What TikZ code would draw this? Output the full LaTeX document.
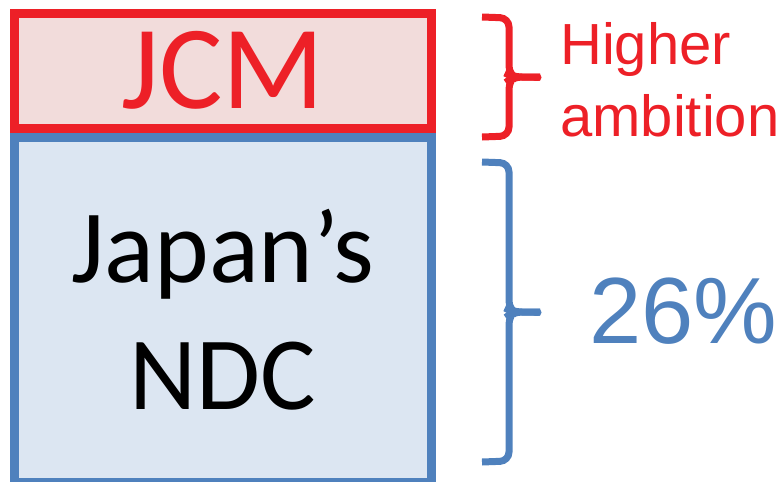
\documentclass[tikz,border=0pt]{standalone}
\usepackage{fontspec}
\setmainfont{Carlito}
\newfontfamily\arialfont{Liberation Sans}
\definecolor{jred}{RGB}{237,32,39}
\definecolor{jredfill}{RGB}{242,220,219}
\definecolor{jblue}{RGB}{79,129,189}
\definecolor{jbluefill}{RGB}{220,230,242}
\tikzset{
  panel/.style={draw, line width=9pt, minimum width=416.5pt, inner sep=0pt, align=center},
  bracestroke/.style={line width=7pt, rounded corners=9pt},
  sidetext/.style={inner sep=0pt, anchor=west, align=left, font=\arialfont}
}
\begin{document}
\begin{tikzpicture}[x=1pt,y=-1pt]
\useasboundingbox (0,0) rectangle (782,482);
\node[panel, draw=jred, fill=jredfill, text=jred, minimum height=115.5pt,
      font=\fontsize{119}{130}\selectfont] (jcm) at (222.75,70.75) {JCM};
\node[panel, draw=jblue, fill=jbluefill, text=black, minimum height=345pt,
      font=\fontsize{104}{127}\selectfont] (ndc) at (222.75,310) {Japan’s\\NDC};
% red brace
\draw[jred, bracestroke] (482,17) -- (509,18) -- (509,75) -- (513,77) -- (540,77);
\draw[jred, bracestroke] (540,77) -- (513,77) -- (509,80) -- (509,136) -- (482,137);
\draw[jred, line width=7pt, line cap=round] (535,77) -- (538,77);
% blue brace
\draw[jblue, bracestroke] (482,162) -- (509,163) -- (509,310) -- (513,312) -- (540,312);
\draw[jblue, bracestroke] (540,312) -- (513,312) -- (509,315) -- (509,461) -- (482,462);
\draw[jblue, line width=7pt, line cap=round] (535,312) -- (538,312);
\node[sidetext, text=jred, font=\arialfont\fontsize{58}{72}\selectfont] (amb) at (560,80) {Higher\\ambition};
\node[sidetext, text=jblue, font=\arialfont\fontsize{94}{110}\selectfont] (pct) at (589,311.5) {26\%};
\end{tikzpicture}
\end{document}
